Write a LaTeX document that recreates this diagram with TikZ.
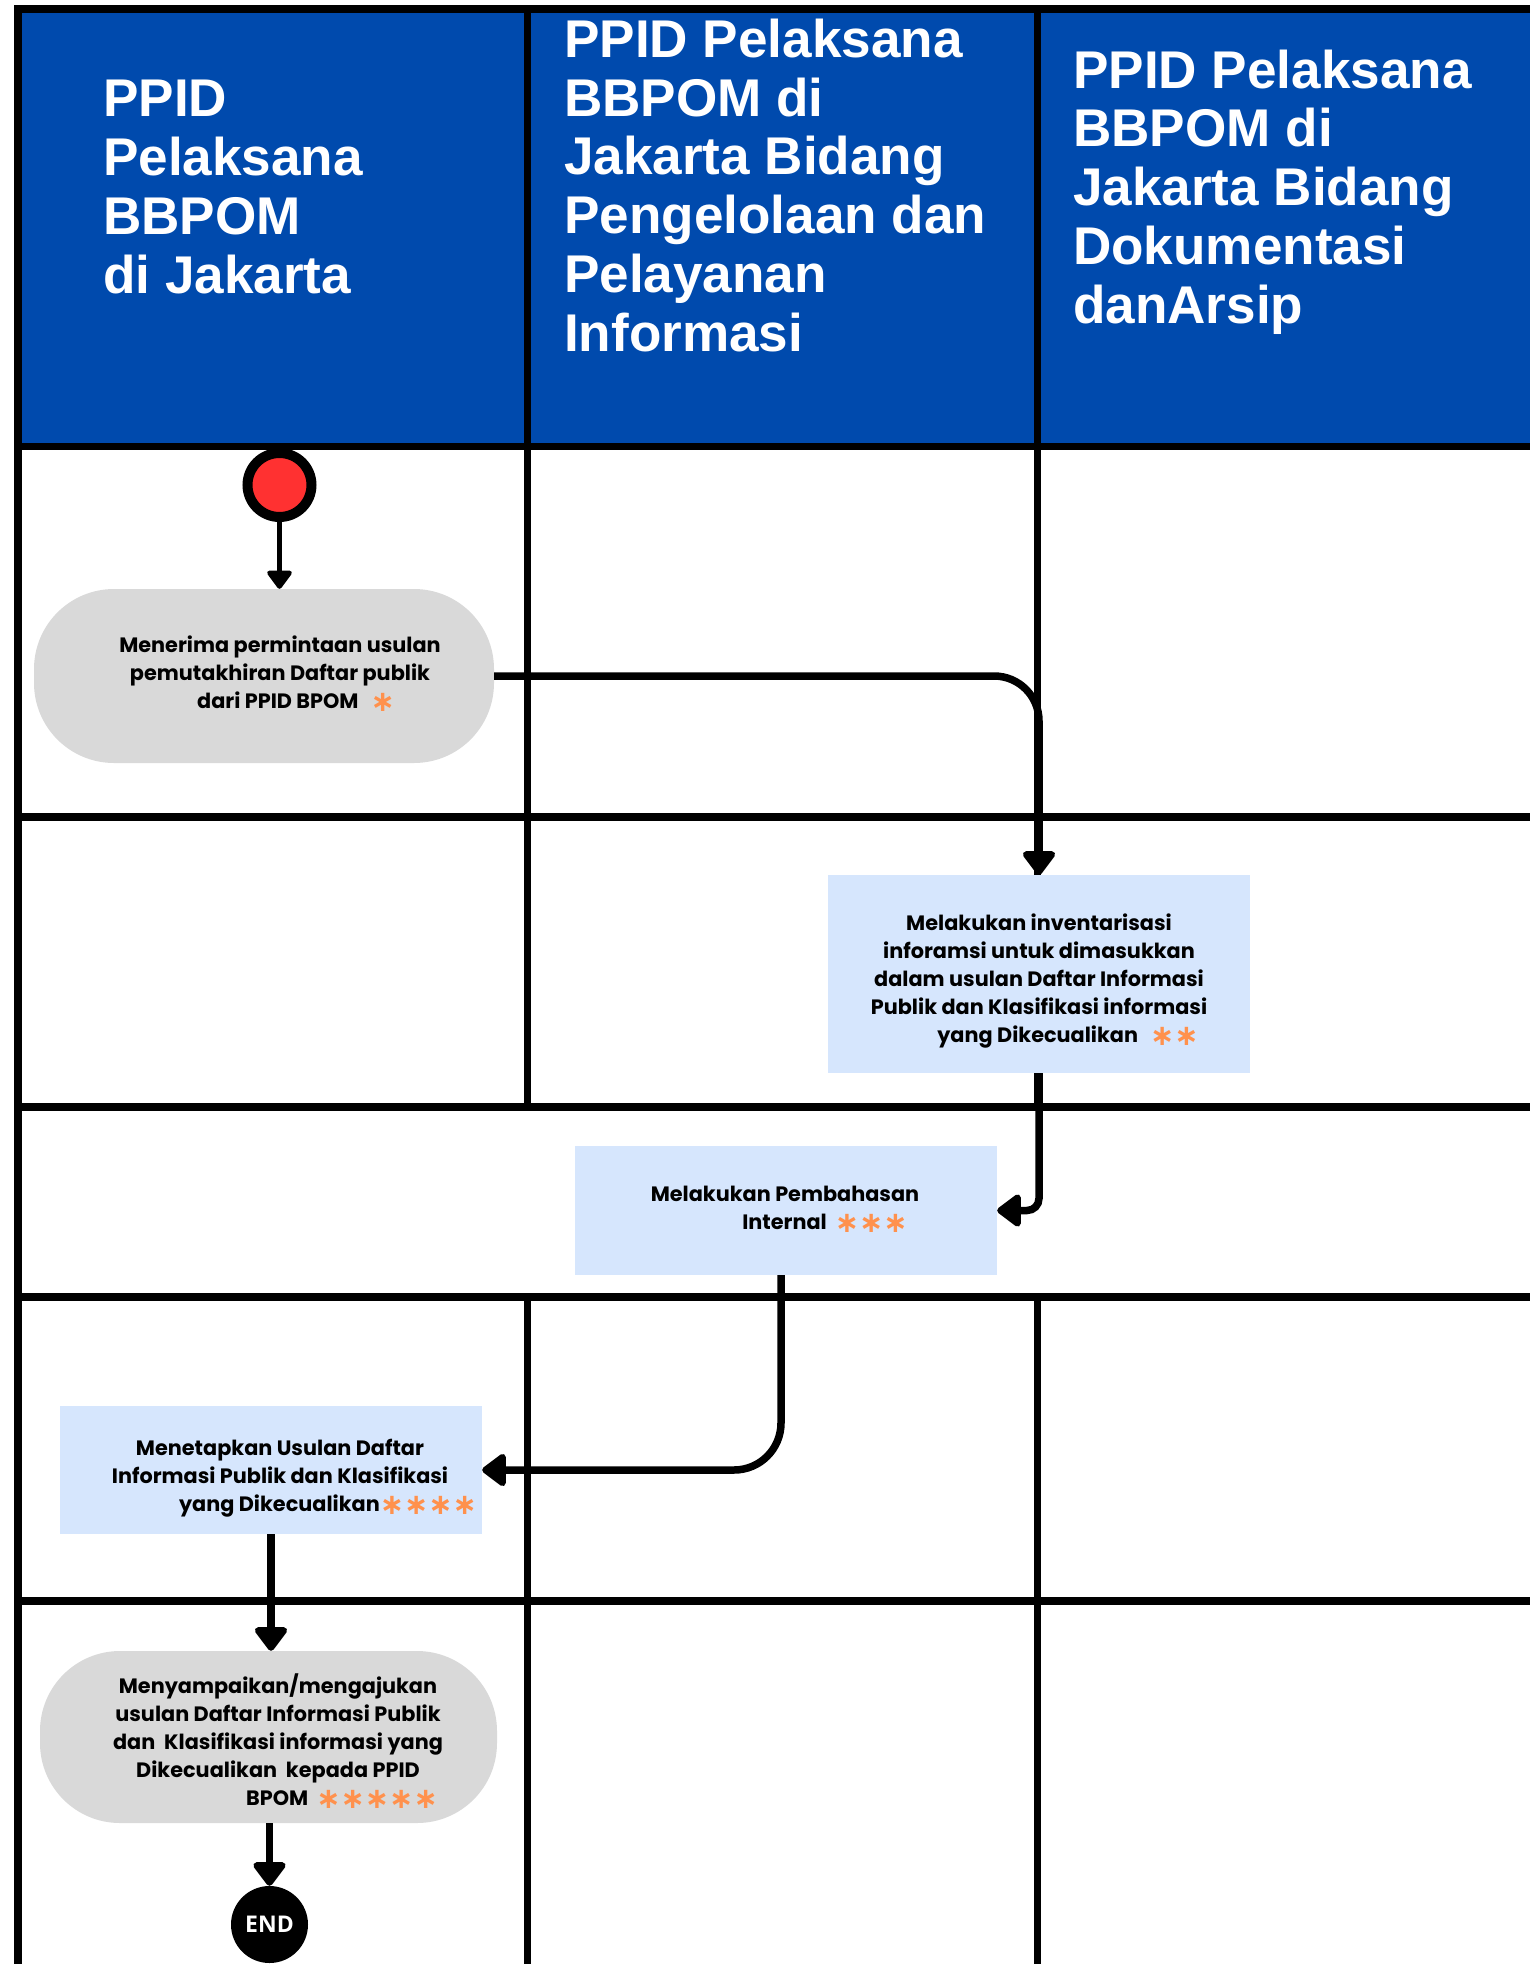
\documentclass[tikz,border=0pt]{standalone}
\usepackage{fontspec}
\setmainfont{Poppins}
\newfontfamily\hdrfont{Liberation Sans}
\newfontfamily\astfont{DejaVu Sans}
\newfontfamily\endfont{Open Sans}
\usetikzlibrary{arrows.meta}
\definecolor{hdrblue}{RGB}{0,74,173}
\definecolor{startred}{RGB}{255,49,49}
\definecolor{boxgray}{RGB}{217,217,217}
\definecolor{boxblue}{RGB}{214,230,253}
\definecolor{astorange}{RGB}{255,145,77}
\newcommand\orast[1]{\raisebox{-3pt}{\astfont\fontsize{29}{29}\selectfont\color{astorange}#1}}
\tikzset{
  gridline/.style={line width=7.5pt},
  hdr/.style={text=white, font=\hdrfont\bfseries\fontsize{53.1}{58.7}\selectfont, align=left, anchor=base west, inner sep=0pt},
  graybox/.style={fill=boxgray, rounded corners=80pt, inner sep=0pt},
  bluebox/.style={fill=boxblue, inner sep=0pt},
  txt/.style={font=\bfseries\fontsize{20.8}{28}\selectfont, align=center, anchor=base, inner sep=0pt},
  conn/.style={line width=7.5pt, -{Triangle[width=37pt,length=26pt,round]}},
  startconn/.style={line width=4.7pt, -{Triangle[width=28pt,length=20pt,round]}},
}
\begin{document}
\begin{tikzpicture}[x=1pt,y=-1pt]
\useasboundingbox (0,0) rectangle (1530,1964);
% header background
\fill[hdrblue] (18,9) rectangle (1530,446.5);
% grid
\draw[gridline] (14,9) -- (1530,9);
\draw[gridline] (14,446.5) -- (1530,446.5);
\draw[gridline] (14,817) -- (1530,817);
\draw[gridline] (14,1107) -- (1530,1107);
\draw[gridline] (14,1297) -- (1530,1297);
\draw[gridline] (14,1601) -- (1530,1601);
\draw[gridline] (18,5.25) -- (18,1964);
\draw[gridline] (527.5,9) -- (527.5,1107);
\draw[gridline] (1037.5,9) -- (1037.5,1107);
\draw[gridline] (527.5,1297) -- (527.5,1964);
\draw[gridline] (1037.5,1297) -- (1037.5,1964);
% header texts (anchored at baseline of last line)
\node[hdr] (h1) at (103,293) {PPID\\Pelaksana\\BBPOM\\di Jakarta};
\node[hdr] (h2) at (564,351) {PPID Pelaksana\\BBPOM di\\Jakarta Bidang\\Pengelolaan dan\\Pelayanan\\Informasi};
\node[hdr] (h3) at (1073,323) {PPID Pelaksana\\BBPOM di\\Jakarta Bidang\\Dokumentasi\\danArsip};
% start
\node[circle, fill=startred, draw=black, line width=10pt, minimum size=64pt, inner sep=0pt] (start) at (279.5,485) {};
% boxes
\node[graybox, minimum width=460pt, minimum height=174pt] (b1) at (264,676) {};
\node[bluebox, minimum width=422pt, minimum height=198pt] (b2) at (1039,974) {};
\node[bluebox, minimum width=422pt, minimum height=129pt] (b3) at (786,1210.5) {};
\node[bluebox, minimum width=422pt, minimum height=128pt] (b4) at (271,1470) {};
\node[graybox, minimum width=457pt, minimum height=172pt] (b5) at (268.5,1737) {};
\node[circle, fill=black, minimum size=77pt, inner sep=0pt, text=white, font=\endfont\bfseries\fontsize{23}{23}\selectfont] (end) at (269.5,1924.5) {END};
% texts (anchored at baseline of last line)
\node[txt] (t1) at (280,708) {Menerima permintaan usulan\\pemutakhiran Daftar publik\\\hspace*{32pt}dari PPID BPOM\hspace{12pt}\orast{∗}};
\node[txt] (t2) at (1039,1042) {Melakukan inventarisasi\\inforamsi untuk dimasukkan\\dalam usulan Daftar Informasi\\Publik dan Klasifikasi informasi\\\hspace*{58pt}yang Dikecualikan\hspace{12pt}\orast{∗∗}};
\node[txt] (t3) at (785,1229) {Melakukan Pembahasan\\\hspace*{80pt}Internal\hspace{8pt}\orast{∗∗∗}};
\node[txt] (t4) at (280,1511) {Menetapkan Usulan Daftar\\Informasi Publik dan Klasifikasi\\\hspace*{96pt}yang Dikecualikan\orast{∗∗∗∗}};
\node[txt] (t5) at (278,1805) {Menyampaikan/mengajukan\\usulan Daftar Informasi Publik\\dan\ \ Klasifikasi informasi yang\\Dikecualikan\ \ kepada PPID\\\hspace*{128pt}BPOM\hspace{8pt}\orast{∗∗∗∗∗}};
% connectors
\draw[startconn] (start) -- (start |- b1.north);
\draw[conn, rounded corners=45pt] (b1.east) -| (b2.north);
\draw[conn, rounded corners=12pt] (b2.south) |- (b3.east);
\draw[conn, rounded corners=47pt] ([xshift=-5pt]b3.south) |- (b4.east);
\draw[conn] (b4.south) -- (b4.south |- b5.north);
\draw[conn] (b5.south -| end.north) -- (end.north);
\end{tikzpicture}
\end{document}
